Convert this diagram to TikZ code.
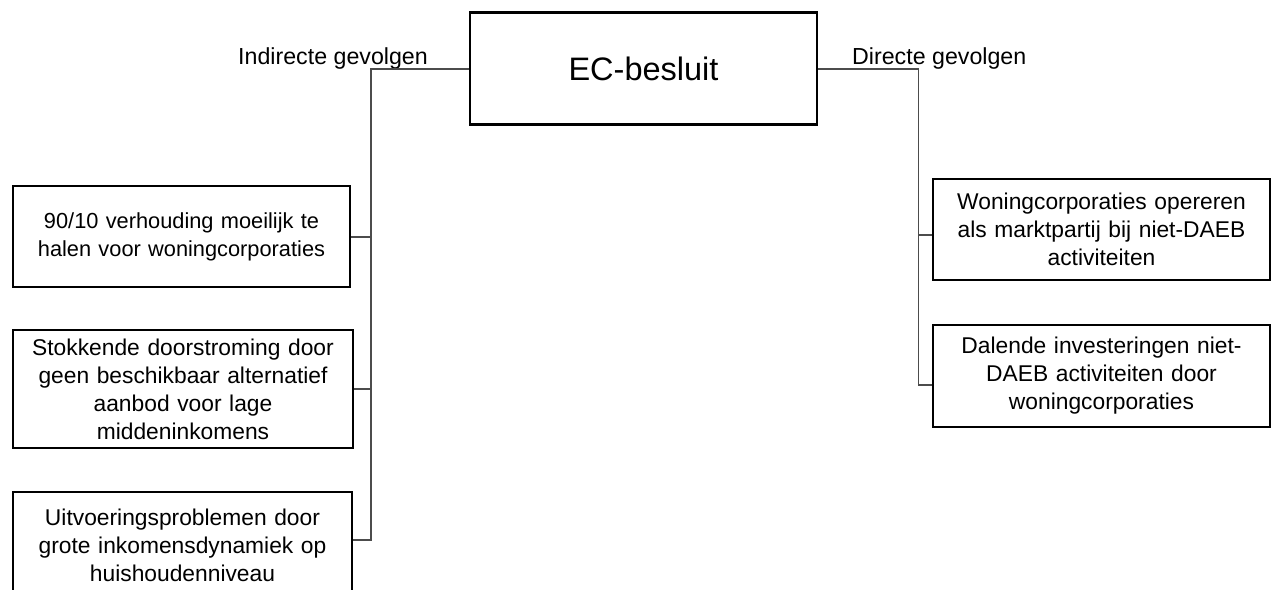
\documentclass[tikz,border=0pt]{standalone}
\usepackage{fontspec}
\setmainfont{Liberation Sans}
\begin{document}
\begin{tikzpicture}[x=1pt,y=-1pt,
  box/.style={draw=black,line width=2.6pt,fill=white,inner sep=0pt,align=center,text width=336pt,font=\fontsize{22.8}{28}\selectfont},
  conn/.style={draw=black!70,line width=1.4pt},
  lbl/.style={inner sep=0pt,anchor=base west,font=\fontsize{23.2}{26}\selectfont}]
\useasboundingbox (0,0) rectangle (1271,589);
\node[box,minimum width=347pt,minimum height=112pt,text width=340pt,font=\fontsize{32.5}{36}\selectfont] (ec) at (643.5,68.5) {EC-besluit};
\node[box,minimum width=337pt,minimum height=101pt,font=\fontsize{21.8}{28}\selectfont] (b1) at (181.5,236.5) {90/10 verhouding moeilijk te\\halen voor woningcorporaties};
\node[box,minimum width=340pt,minimum height=118pt] (b2) at (183,389) {Stokkende doorstroming door\\geen beschikbaar alternatief\\aanbod voor lage\\middeninkomens};
\node[box,minimum width=339pt,minimum height=106pt] (b3) at (182.5,545) {Uitvoeringsproblemen door\\grote inkomensdynamiek op\\huishoudenniveau};
\node[box,minimum width=337pt,minimum height=101pt] (ba) at (1101.5,229.5) {Woningcorporaties opereren\\als marktpartij bij niet-DAEB\\activiteiten};
\node[box,minimum width=337pt,minimum height=102pt] (bb) at (1101.5,376) {Dalende investeringen niet-\\DAEB activiteiten door\\woningcorporaties};
\node[lbl] (li) at (238,64) {Indirecte gevolgen};
\node[lbl] (ld) at (852,64) {Directe gevolgen};
\coordinate (jl) at (371,69);
\coordinate (j1) at (371,237);
\coordinate (j2) at (371,389);
\coordinate (j3) at (371,540);
\coordinate (jr) at (918.5,69);
\coordinate (ja) at (918.5,235);
\coordinate (jb) at (918.5,385);
\draw[conn] (ec.west |- jl) -- (jl) -- (j3) -- (b3.east |- j3);
\draw[conn] (j1) -- (b1.east |- j1);
\draw[conn] (j2) -- (b2.east |- j2);
\draw[conn] (ec.east |- jr) -- (jr) -- (jb) -- (bb.west |- jb);
\draw[conn] (ja) -- (ba.west |- ja);
\end{tikzpicture}
\end{document}
